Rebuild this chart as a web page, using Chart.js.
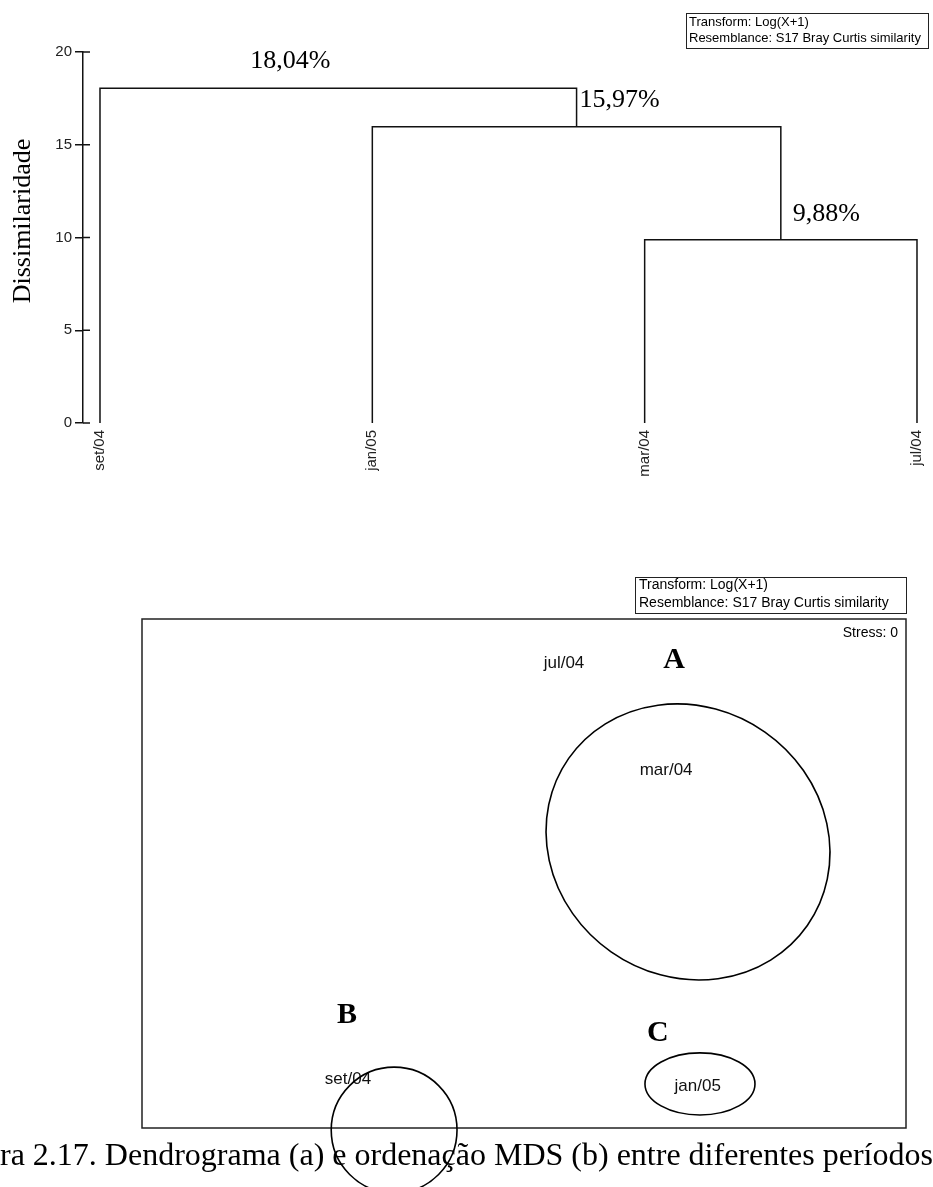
<!DOCTYPE html>
<html><head><meta charset="utf-8">
<script src="https://cdn.jsdelivr.net/npm/chart.js@4/dist/chart.umd.min.js"></script>
<style>
html,body{margin:0;padding:0;background:#fff;width:933px;height:1187px;overflow:hidden;}
#c1{position:absolute;left:0;top:0;}
#c2{position:absolute;left:0;top:560px;}
</style></head><body>
<canvas id="c1" width="933" height="500"></canvas>
<canvas id="c2" width="933" height="627"></canvas>
<script>
// ---------- (a) Dendrogram data ----------
const leaves = ['set/04', 'jan/05', 'mar/04', 'jul/04'];
const mergeHeights = [9.88, 15.97, 18.04];
const mergeLeft = ['mar/04', 'jan/05', 'set/04'];
const mergeRight = ['jul/04', 'node1', 'node2'];
const yTicks = [0, 5, 10, 15, 20];
const yTitle = 'Dissimilaridade';
const legendLines = ['Transform: Log(X+1)', 'Resemblance: S17 Bray Curtis similarity'];

// ---------- (b) MDS data ----------
const mdsLabels = ['jul/04', 'mar/04', 'jan/05', 'set/04'];
const mdsX = [0.157, 0.558, 0.682, -0.691];
const mdsY = [0.827, 0.407, -0.835, -0.807];
const stressValue = 0;
const groupNames = ['A', 'B', 'C'];
const groupLabelX = [0.589, -0.695, 0.526];
const groupLabelY = [0.847, -0.548, -0.619];
const groupCenterX = [0.644, -0.510, 0.691];
const groupCenterY = [0.124, -1.008, -0.827];
const groupRadiusX = [0.572, 0.247, 0.216];
const groupRadiusY = [0.527, 0.247, 0.122];
const groupAngle = [35, 0, 0];
const captionText = 'Figura 2.17. Dendrograma (a) e ordenação MDS (b) entre diferentes períodos';

// ---------- build dendrogram links ----------
const nodePos = {};
leaves.forEach((l, i) => nodePos[l] = {x: i, h: 0});
const nodes = [];
mergeHeights.forEach((h, k) => {
  const a = nodePos[mergeLeft[k]], b = nodePos[mergeRight[k]];
  const n = {x: (a.x + b.x) / 2, h: h, a: a, b: b};
  nodePos['node' + (k + 1)] = n;
  nodes.push(n);
});
const linkDatasets = nodes.map(n => ({
  data: [{x: n.a.x, y: n.a.h}, {x: n.a.x, y: n.h}, {x: n.b.x, y: n.h}, {x: n.b.x, y: n.b.h}],
  borderColor: '#111', borderWidth: 1.5, pointRadius: 0, fill: false, tension: 0, showLine: true
}));
const fmtPct = v => v.toFixed(2).replace('.', ',') + '%';

const SANS = '"Liberation Sans", Arial, sans-serif';
const SERIF = '"Liberation Serif", "Times New Roman", serif';
const pctOffsets = [[12, -19], [3, -20], [-88, -20]];

const dendroPlugin = {
  id: 'dendro',
  afterDraw(chart) {
    const {ctx, chartArea, scales: {x, y}} = chart;
    ctx.save();
    ctx.strokeStyle = '#111'; ctx.lineWidth = 1.5;
    yTicks.forEach(v => {
      const py = y.getPixelForValue(v);
      ctx.beginPath(); ctx.moveTo(chartArea.left, py); ctx.lineTo(chartArea.left + 7, py); ctx.stroke();
    });
    ctx.fillStyle = '#000';
    ctx.font = '26px ' + SERIF; ctx.textAlign = 'left'; ctx.textBaseline = 'alphabetic';
    nodes.forEach((n, k) => {
      ctx.fillText(fmtPct(n.h), x.getPixelForValue(n.x) + pctOffsets[k][0], y.getPixelForValue(n.h) + pctOffsets[k][1]);
    });
    // legend box
    const bx = chartArea.right - 239, by = 13;
    ctx.lineWidth = 1; ctx.strokeStyle = '#222';
    ctx.strokeRect(bx + 0.5, by + 0.5, 242, 35);
    ctx.font = '13px ' + SANS; ctx.fillStyle = '#000';
    ctx.fillText(legendLines[0], bx + 3, by + 13);
    ctx.fillText(legendLines[1], bx + 3, by + 29);
    // y title
    ctx.translate(23, 221); ctx.rotate(-Math.PI / 2);
    ctx.font = '26px ' + SERIF; ctx.textAlign = 'center'; ctx.textBaseline = 'middle';
    ctx.fillText(yTitle, 0, 0);
    ctx.restore();
  }
};

new Chart(document.getElementById('c1'), {
  type: 'line',
  data: {datasets: linkDatasets},
  options: {
    responsive: false, animation: false, events: [],
    layout: {padding: {left: 0, right: 8, top: 52, bottom: 0}},
    plugins: {legend: {display: false}, tooltip: {enabled: false}},
    scales: {
      x: {
        type: 'linear', min: -0.0624, max: 3.0294,
        afterBuildTicks: s => { s.ticks = leaves.map((_, i) => ({value: i})); },
        afterFit: s => { s.height = 77; s.paddingLeft = 0; s.paddingRight = 0; },
        grid: {display: false, drawTicks: false}, border: {display: false},
        ticks: {callback: v => leaves[v], minRotation: 90, maxRotation: 90, autoSkip: false,
                padding: 7, color: '#222', font: {family: SANS, size: 15}}
      },
      y: {
        min: 0, max: 20,
        afterBuildTicks: s => { s.ticks = yTicks.map(v => ({value: v})); },
        afterFit: s => { s.width = 83; s.paddingTop = 0; s.paddingBottom = 0; },
        grid: {drawOnChartArea: false, tickLength: 8, color: '#111', lineWidth: 1.5},
        border: {color: '#111', width: 1.5},
        ticks: {padding: 3, color: '#222', font: {family: SANS, size: 15}}
      }
    }
  },
  plugins: [dendroPlugin]
});

// ---------- MDS ----------
const mdsPlugin = {
  id: 'mds',
  afterDraw(chart) {
    const {ctx, chartArea, scales: {x, y}} = chart;
    ctx.save();
    // caption
    ctx.fillStyle = '#000';
    ctx.font = '32px ' + SERIF; ctx.textAlign = 'left'; ctx.textBaseline = 'alphabetic';
    const off = ctx.measureText('Figu').width;
    ctx.fillText(captionText, -off, 605);
    // frame
    ctx.strokeStyle = '#222'; ctx.lineWidth = 1.5;
    ctx.strokeRect(chartArea.left, chartArea.top, chartArea.right - chartArea.left, chartArea.bottom - chartArea.top);
    // legend box
    const bx = chartArea.right - 271, by = chartArea.top - 42;
    ctx.lineWidth = 1;
    ctx.strokeRect(bx + 0.5, by + 0.5, 271, 36);
    ctx.font = '14px ' + SANS;
    ctx.fillText(legendLines[0], bx + 4, by + 12);
    ctx.fillText(legendLines[1], bx + 4, by + 30);
    // stress
    ctx.textAlign = 'right';
    ctx.fillText('Stress: ' + stressValue, chartArea.right - 8, chartArea.top + 18);
    // labels
    ctx.font = '17px ' + SANS; ctx.textAlign = 'center'; ctx.textBaseline = 'middle'; ctx.fillStyle = '#111';
    const meta = chart.getDatasetMeta(0);
    meta.data.forEach((pt, i) => ctx.fillText(mdsLabels[i], pt.x, pt.y));
    // group letters
    ctx.font = 'bold 30px ' + SERIF; ctx.textBaseline = 'alphabetic'; ctx.fillStyle = '#000';
    groupNames.forEach((g, i) => ctx.fillText(g, x.getPixelForValue(groupLabelX[i]), y.getPixelForValue(groupLabelY[i]) + 10));
    // ellipses
    const ux = (x.getPixelForValue(1) - x.getPixelForValue(0));
    const uy = (y.getPixelForValue(0) - y.getPixelForValue(1));
    ctx.strokeStyle = '#000'; ctx.lineWidth = 1.6;
    groupNames.forEach((g, i) => {
      ctx.beginPath();
      ctx.ellipse(x.getPixelForValue(groupCenterX[i]), y.getPixelForValue(groupCenterY[i]),
        groupRadiusX[i] * ux, groupRadiusY[i] * uy, groupAngle[i] * Math.PI / 180, 0, Math.PI * 2);
      ctx.stroke();
    });
    ctx.restore();
  }
};

new Chart(document.getElementById('c2'), {
  type: 'scatter',
  data: {datasets: [{data: mdsX.map((v, i) => ({x: v, y: mdsY[i]})), pointRadius: 0, pointHoverRadius: 0}]},
  options: {
    responsive: false, animation: false, events: [],
    layout: {padding: {left: 142, right: 27, top: 59, bottom: 59}},
    plugins: {legend: {display: false}, tooltip: {enabled: false}},
    scales: {
      x: {type: 'linear', min: -1.5, max: 1.5, display: false},
      y: {type: 'linear', min: -1, max: 1, display: false}
    }
  },
  plugins: [mdsPlugin]
});
</script>
</body></html>
